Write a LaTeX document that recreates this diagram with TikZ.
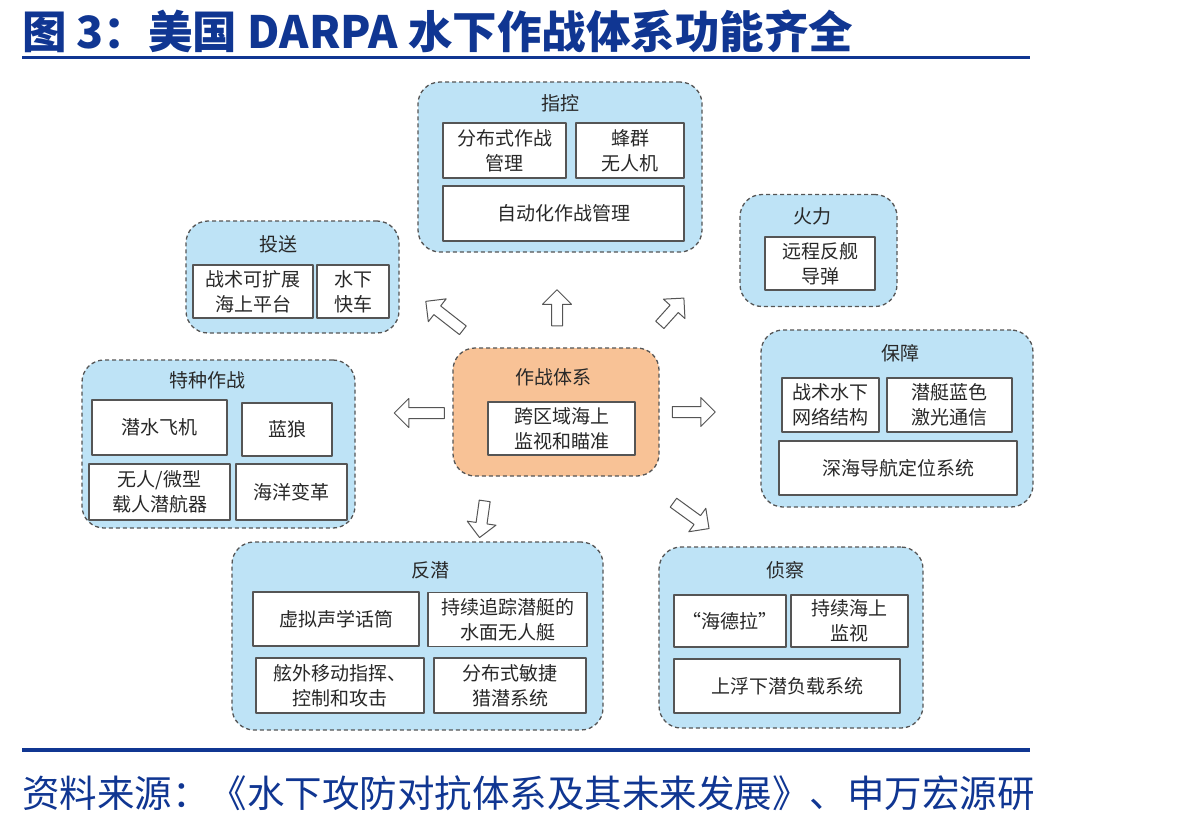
\documentclass[tikz,border=0pt]{standalone}
\usepackage{fontspec}
\setmainfont{Noto Sans CJK SC}
\usetikzlibrary{shapes.arrows}
\definecolor{titleblue}{RGB}{16,54,146}
\definecolor{grpblue}{RGB}{190,227,246}
\definecolor{grporange}{RGB}{248,194,150}
\definecolor{inkgray}{RGB}{40,40,40}
\definecolor{linegray}{RGB}{85,85,85}
\tikzset{
  grp/.style={draw=linegray, fill=grpblue, line width=1.3pt, dash pattern=on 4pt off 3pt,
    rounded corners=22pt, inner sep=0pt},
  grptitle/.style={text=inkgray, font=\fontsize{19}{24}\selectfont, inner sep=0pt},
  cell/.style={draw=linegray, fill=white, line width=1.3pt, align=center, text=inkgray,
    font=\fontsize{19}{25}\selectfont, inner sep=0pt},
  blockarrow/.style={single arrow, draw=linegray, fill=white, line width=1pt, inner xsep=0pt,
    inner ysep=5pt, single arrow head extend=9pt, single arrow head indent=0pt}
}
\begin{document}
\begin{tikzpicture}[x=1pt,y=-1pt,line join=round]
\useasboundingbox (0,0) rectangle (1201,825);

% title and source
\node[anchor=west, inner sep=0pt, text=titleblue, font=\fontsize{44.5}{44.5}\selectfont\bfseries] (title) at (22,31) {图 3：美国 DARPA 水下作战体系功能齐全};
\draw[titleblue, line width=3pt] (22,57) -- (1030,57);
\draw[titleblue, line width=4pt] (22,750) -- (1030,750);
\node[anchor=west, inner sep=0pt, text=titleblue, font=\fontsize{37.5}{37.5}\selectfont] (source) at (22,793) {资料来源：《水下攻防对抗体系及其未来发展》、申万宏源研};

% 指控
\node[grp, minimum width=284, minimum height=170] (zhikong) at (560,167) {};
\node[grptitle] (zhikongT) at (560,103) {指控};
\node[cell, minimum width=123, minimum height=55] (zk1) at (504.5,150.5) {分布式作战\\管理};
\node[cell, minimum width=108, minimum height=55] (zk2) at (630,150.5) {蜂群\\无人机};
\node[cell, minimum width=241, minimum height=55] (zk3) at (563.5,213.5) {自动化作战管理};

% 投送
\node[grp, minimum width=213, minimum height=112] (tousong) at (292.5,277) {};
\node[grptitle] (tousongT) at (278,244) {投送};
\node[cell, minimum width=120, minimum height=53] (ts1) at (253,291.5) {战术可扩展\\海上平台};
\node[cell, minimum width=72, minimum height=53] (ts2) at (353,291.5) {水下\\快车};

% 火力
\node[grp, minimum width=157, minimum height=112] (huoli) at (818.5,250.5) {};
\node[grptitle] (huoliT) at (812,216) {火力};
\node[cell, minimum width=110, minimum height=53] (hl1) at (820,263.5) {远程反舰\\导弹};

% 保障
\node[grp, minimum width=272, minimum height=177] (baozhang) at (897,418.5) {};
\node[grptitle] (baozhangT) at (900,353) {保障};
\node[cell, minimum width=97, minimum height=54] (bz1) at (830.5,405) {战术水下\\网络结构};
\node[cell, minimum width=125, minimum height=54] (bz2) at (949.5,405) {潜艇蓝色\\激光通信};
\node[cell, minimum width=238, minimum height=54] (bz3) at (898,468) {深海导航定位系统};

% 特种作战
\node[grp, minimum width=273, minimum height=168] (tezhong) at (218.5,444) {};
\node[grptitle] (tezhongT) at (207,380) {特种作战};
\node[cell, minimum width=135, minimum height=55] (tz1) at (159.5,427.5) {潜水飞机};
\node[cell, minimum width=90, minimum height=53] (tz2) at (287,429.5) {蓝狼};
\node[cell, minimum width=141, minimum height=56] (tz3) at (159.5,492) {无人/微型\\载人潜航器};
\node[cell, minimum width=111, minimum height=56] (tz4) at (291.5,492) {海洋变革};

% 反潜
\node[grp, minimum width=371, minimum height=188] (fanqian) at (417.5,636) {};
\node[grptitle] (fanqianT) at (430,570) {反潜};
\node[cell, minimum width=166, minimum height=54] (fq1) at (336,619) {虚拟声学话筒};
\node[cell, minimum width=159, minimum height=54] (fq2) at (507.5,619.5) {持续追踪潜艇的\\水面无人艇};
\node[cell, minimum width=168, minimum height=55] (fq3) at (340,685.5) {舷外移动指挥、\\控制和攻击};
\node[cell, minimum width=152, minimum height=55] (fq4) at (510,685.5) {分布式敏捷\\猎潜系统};

% 侦察
\node[grp, minimum width=264, minimum height=181] (zhencha) at (791,637.5) {};
\node[grptitle] (zhenchaT) at (785,570) {侦察};
\node[cell, minimum width=112, minimum height=52] (zc1) at (730,621) {“海德拉”};
\node[cell, minimum width=117, minimum height=52] (zc2) at (849.5,621) {持续海上\\监视};
\node[cell, minimum width=226, minimum height=54] (zc3) at (787,686) {上浮下潜负载系统};

% 作战体系
\node[grp, fill=grporange, minimum width=206, minimum height=128] (tixi) at (556,412) {};
\node[grptitle] (tixiT) at (553,377) {作战体系};
\node[cell, minimum width=147, minimum height=53] (tx1) at (561.5,428.5) {跨区域海上\\监视和瞄准};

% arrows
\node[blockarrow, minimum height=47, rotate=142] (toTS) at (446.5,317.5) {};
\node[blockarrow, minimum height=36, rotate=90] (toZK) at (557,310.5) {};
\node[blockarrow, minimum height=36, rotate=48] (toHL) at (670,313.5) {};
\node[blockarrow, minimum height=43, rotate=0] (toBZ) at (691,412) {};
\node[blockarrow, minimum height=50, rotate=180] (toTZ) at (422,413) {};
\node[blockarrow, minimum height=37, rotate=262] (toFQ) at (482.5,516.5) {};
\node[blockarrow, minimum height=44, rotate=-36] (toZC) at (689,514) {};
\end{tikzpicture}
\end{document}
